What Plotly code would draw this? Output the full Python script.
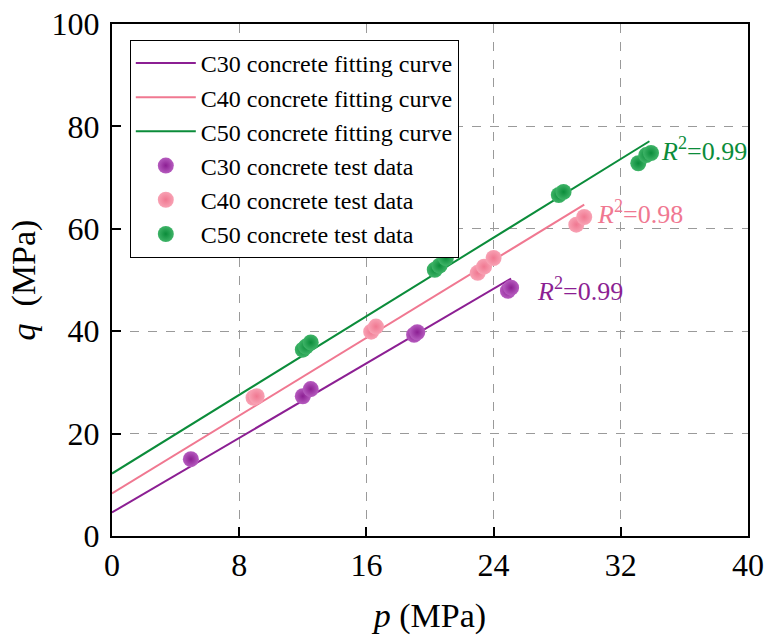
import plotly.graph_objects as go

# Test data: confining pressure p and peak strength q (MPa)
c30_p = [4.96, 12.0, 12.5, 19.0, 19.2, 24.9, 25.1]
c30_q = [15.0, 27.3, 28.7, 39.3, 39.8, 47.9, 48.5]

c40_p = [8.9, 9.1, 16.3, 16.6, 23.0, 23.4, 24.0, 29.2, 29.7]
c40_q = [27.0, 27.3, 39.9, 40.9, 51.4, 52.6, 54.3, 60.8, 62.3]

c50_p = [12.0, 12.2, 12.5, 20.3, 20.6, 21.0, 28.1, 28.4, 33.1, 33.6, 33.9]
c50_q = [36.4, 37.0, 37.8, 52.0, 52.8, 54.3, 66.6, 67.2, 72.8, 74.4, 74.8]

# Linear fits q = a + b * p, drawn from p = 0 to p_end
fit_intercept = [4.6, 8.3, 12.2]
fit_slope = [1.82, 1.90, 1.92]
fit_p_end = [25.1, 29.7, 33.8]
fit_r2 = ["0.99", "0.98", "0.99"]
r2_pos = [(26.6, 48.1), (30.4, 63.1), (34.4, 75.4)]

grades = ["C30", "C40", "C50"]
colors = ["#8c1f93", "#f07891", "#0b8c3a"]
light = ["#b65cbf", "#f8a2b4", "#3fb468"]

x_ticks = [0, 8, 16, 24, 32, 40]
y_ticks = [0, 20, 40, 60, 80, 100]

FONT = "Liberation Serif"

fig = go.Figure()

for g, a, b, pe, col in zip(grades, fit_intercept, fit_slope, fit_p_end, colors):
    fig.add_trace(go.Scatter(
        x=[0, pe], y=[a, a + b * pe], mode="lines",
        line=dict(color=col, width=2),
        name=f"{g} concrete fitting curve",
    ))

for g, px, qy, col, lc in zip(grades, [c30_p, c40_p, c50_p], [c30_q, c40_q, c50_q], colors, light):
    fig.add_trace(go.Scatter(
        x=px, y=qy, mode="markers",
        marker=dict(size=16, color=lc, gradient=dict(type="radial", color=col),
                    line=dict(width=0)),
        name=f"{g} concrete test data",
    ))

for (xp, yp), r2, col in zip(r2_pos, fit_r2, colors):
    fig.add_annotation(
        x=xp, y=yp, xref="x", yref="y", xanchor="left", yanchor="middle",
        text=f"<i>R</i><sup>2</sup>=" + r2, showarrow=False,
        font=dict(family=FONT, size=26, color=col),
    )

axis_common = dict(
    showline=True, linecolor="black", linewidth=2, mirror=True,
    ticks="inside", ticklen=9, tickwidth=2, tickcolor="black",
    showgrid=True, gridcolor="#9a9a9a", griddash="dash", gridwidth=1,
    zeroline=False, automargin=False,
    tickfont=dict(family=FONT, size=32, color="black"),
)

fig.update_xaxes(
    range=[0, 40], tickvals=x_ticks, ticklabelstandoff=0,
    title=dict(text="<i>p</i> (MPa)", font=dict(family=FONT, size=34, color="black"), standoff=21),
    **axis_common,
)
fig.update_yaxes(
    range=[0, 100], tickvals=y_ticks, ticklabelstandoff=4,
    title=dict(text="<i>q</i>  (MPa)", font=dict(family=FONT, size=34, color="black"), standoff=6),
    **axis_common,
)

fig.update_layout(
    width=766, height=636,
    margin=dict(l=112, r=18, t=24, b=100),
    plot_bgcolor="white", paper_bgcolor="white",
    font=dict(family=FONT, color="black"),
    legend=dict(
        x=0.028, y=0.969, xanchor="left", yanchor="top",
        bgcolor="white", bordercolor="black", borderwidth=1,
        font=dict(family=FONT, size=24, color="black"),
        itemwidth=60, tracegroupgap=0,
    ),
)

fig.write_html("out.html")
